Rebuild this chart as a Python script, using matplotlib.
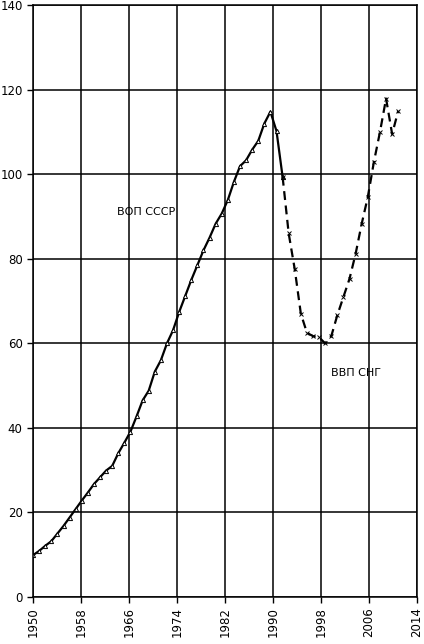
import matplotlib
matplotlib.use("Agg")
import matplotlib.pyplot as plt

# ВВП СССР (solid line)
ussr_years = list(range(1950, 1992))
ussr_gdp = [9.9, 10.9, 12.1, 13.2, 15.0, 16.8, 18.8, 20.8, 22.8, 24.7,
            26.7, 28.3, 29.9, 31.0, 34.0, 36.5, 39.1, 42.7, 46.5, 48.8,
            53.3, 56.0, 60.0, 63.1, 67.4, 71.2, 75.0, 78.5, 82.0, 85.0,
            88.3, 90.7, 93.9, 98.2, 101.9, 103.3, 105.8, 107.9, 112.0, 114.8,
            110.2, 99.4]

# ВВП СНГ (dashed line)
cis_years = list(range(1991, 2011))
cis_gdp = [99.4, 86.0, 77.5, 67.0, 62.5, 61.7, 61.4, 60.0, 61.7, 66.7,
           71.0, 75.3, 81.2, 88.3, 94.6, 102.9, 110.0, 117.9, 109.5, 115.0]

tick_labels = ["1950", "1958", "1966", "1974", "1982", "1990", "1998", "2006", "2014"]
y_ticks = [0, 20, 40, 60, 80, 100, 120, 140]

# in the scan the year grid is drawn a bit narrower than the data spacing
x_end = 2013.05
x_ticks = [1950 + i * (x_end - 1950) / 8 for i in range(9)]

fig = plt.figure(figsize=(4.24, 6.44), dpi=100)
ax = fig.add_axes([0.078, 0.073, 0.905, 0.919])

ax.plot(ussr_years, ussr_gdp, color="black", lw=1.6,
        marker="^", ms=3, mfc="white", mec="black", mew=0.7)
ax.plot(cis_years, cis_gdp, color="black", lw=1.6, ls=(0, (4, 2.5)),
        marker="x", ms=2.5, mew=0.7)

ax.text(1963.8, 91, "ВОП СССР", fontsize=8, va="center", ha="left")
ax.text(1999.0, 53, "ВВП СНГ", fontsize=8, va="center", ha="left")

ax.set_xlim(1950, x_end)
ax.set_ylim(0, 140)
ax.set_xticks(x_ticks)
ax.set_yticks(y_ticks)
ax.set_xticklabels(tick_labels, rotation=90)
ax.tick_params(direction="out", length=4, width=1, colors="black", labelsize=8.5)
ax.grid(True, color="black", lw=1.1)
for s in ax.spines.values():
    s.set_color("black")
    s.set_linewidth(1.1)

fig.savefig("out.png", dpi=100)
